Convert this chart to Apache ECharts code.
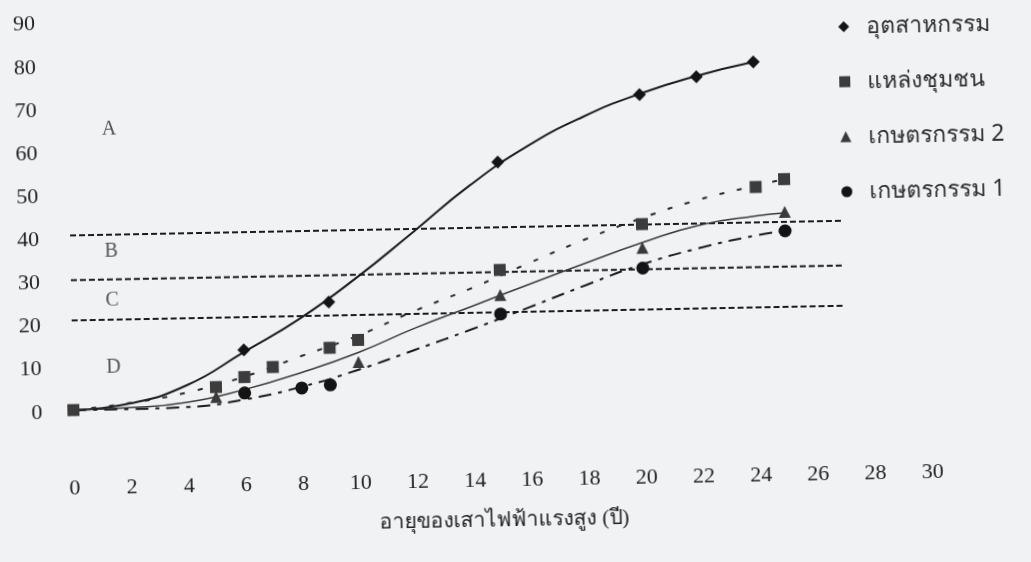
<!DOCTYPE html>
<html>
<head>
<meta charset="utf-8">
<script src="https://cdn.jsdelivr.net/npm/echarts@6/dist/echarts.min.js"></script>
<style>
  html, body { margin: 0; padding: 0; background: #f1f2f4; overflow: hidden; }
  #chart { width: 1031px; height: 562px; transform: rotate(-1.09deg); transform-origin: 50% 50%; }
</style>
</head>
<body>
<div id="chart"></div>
<script>
// ---- data ----
const seriesNames = ['อุตสาหกรรม', 'แหล่งชุมชน', 'เกษตรกรรม 2', 'เกษตรกรรม 1'];
const xAxisName = 'อายุของเสาไฟฟ้าแรงสูง (ปี)';

// observed points
const industrialX = [6, 9, 15, 20, 22, 24];
const industrialY = [13.7, 24.4, 56.1, 71.1, 75.0, 78.2];
const communityX = [0, 5, 6, 7, 9, 10, 15, 20, 24, 25];
const communityY = [0.5, 5.2, 7.4, 9.6, 13.8, 15.5, 31.1, 41.1, 49.2, 50.9];
const agri2X = [5, 10, 15, 20, 25];
const agri2Y = [2.9, 10.4, 25.3, 35.6, 43.3];
const agri1X = [6, 8, 9, 15, 20, 25];
const agri1Y = [3.7, 4.6, 5.2, 20.9, 30.9, 38.9];

// trend curves
const industrialFitX = [0, 2, 4, 6, 8, 10, 12, 14, 16, 18, 20, 22, 24];
const industrialFitY = [0.5, 1.8, 5.8, 13.2, 20.8, 30, 40.3, 50.8, 59.5, 66.2, 71.3, 75.2, 78.2];
const fitX = [0, 2, 4, 6, 8, 10, 12, 14, 16, 18, 20, 22, 24, 25];
const communityFitY = [0.5, 1.9, 4.1, 7.5, 12, 16.5, 22, 27, 32.5, 37.8, 42.5, 46.5, 49.5, 50.9];
const agri2FitY = [0.5, 0.8, 1.8, 4.5, 8.2, 12.6, 18, 22.8, 27.6, 32.3, 36.8, 40.6, 42.5, 43.1];
const agri1FitY = [0.5, 0.5, 0.7, 2.2, 4.9, 8.6, 13, 17.5, 22.3, 27.2, 31.8, 35.3, 38, 38.9];

// class thresholds and zone labels
const thresholdValues = [41, 30.6, 21.3];
const thresholdSpan = [0, 27];
const zoneNames = ['A', 'B', 'C', 'D'];
const zoneX = [1.43, 1.43, 1.43, 1.43];
const zoneY = [65.3, 37.0, 25.8, 10.1];

// axes
const xMin = 0, xMax = 30, xStep = 2;
const yMin = 0, yMax = 90, yStep = 10;

// ---- build ----
const zip = (xs, ys) => xs.map((x, i) => [x, ys[i]]);
const serif = '"Liberation Serif", "DejaVu Serif", serif';
const sans = '"Noto Sans", "DejaVu Sans", sans-serif';
const ink = '#1b1b1b';

const fitLine = (name, xs, ys, type, width, color) => ({
  name: name, type: 'line', data: zip(xs, ys), smooth: 0.5, showSymbol: false,
  lineStyle: { color: color, width: width, type: type }, z: 2, silent: true
});

const pointSeries = (name, xs, ys, symbol, size, color) => ({
  name: name, type: 'scatter', data: zip(xs, ys), symbol: symbol, symbolSize: size,
  itemStyle: { color: color, opacity: 1 }, z: 5
});

const series = [];
thresholdValues.forEach((v, i) => {
  series.push({
    name: 'th' + i, type: 'line', data: thresholdSpan.map(x => [x, v]), showSymbol: false,
    lineStyle: { color: ink, width: 2, type: [6, 3] }, z: 1, silent: true
  });
});
series.push(fitLine('fitIndustrial', industrialFitX, industrialFitY, 'solid', 2, ink));
series.push(fitLine('fitCommunity', fitX, communityFitY, [5, 13], 2, '#2a2a2a'));
series.push(fitLine('fitAgri2', fitX, agri2FitY, 'solid', 1.5, '#3a3a3a'));
series.push(fitLine('fitAgri1', fitX, agri1FitY, [13, 7, 4, 7], 2, ink));
series.push(pointSeries(seriesNames[0], industrialX, industrialY, 'diamond', 13, '#141414'));
series.push(pointSeries(seriesNames[1], communityX, communityY, 'rect', 12, '#3c3c3c'));
series.push(pointSeries(seriesNames[2], agri2X, agri2Y, 'triangle', 12, '#3a3a3a'));
series.push(pointSeries(seriesNames[3], agri1X, agri1Y, 'circle', 13, '#141414'));
series.push({
  name: 'zones', type: 'scatter', symbolSize: 1, silent: true,
  itemStyle: { color: 'rgba(0,0,0,0)' },
  data: zoneNames.map((n, i) => ({ value: [zoneX[i], zoneY[i]], name: n })),
  label: { show: true, position: 'inside', formatter: p => p.name,
           fontFamily: serif, fontSize: 20, color: '#2a2a2a' }, z: 3
});

const option = {
  backgroundColor: '#f1f2f4',
  animation: false,
  grid: { left: 71, right: 1031 - 71 - 858, top: 15.6, bottom: 562 - 403.8 },
  legend: {
    data: [
      { name: seriesNames[0], icon: 'diamond' },
      { name: seriesNames[1], icon: 'rect' },
      { name: seriesNames[2], icon: 'triangle' },
      { name: seriesNames[3], icon: 'circle' }
    ],
    orient: 'vertical', left: 838, top: 15,
    itemWidth: 11, itemHeight: 11, itemGap: 29,
    selectedMode: false,
    textStyle: { fontFamily: sans, fontSize: 23, lineHeight: 26, color: '#2e2e2e', padding: [0, 0, 0, 12] }
  },
  xAxis: {
    type: 'value', min: xMin, max: xMax, interval: xStep,
    name: xAxisName, nameLocation: 'middle', nameGap: 106,
    nameTextStyle: { fontFamily: serif, fontSize: 21, color: '#222' },
    axisLine: { show: false }, axisTick: { show: false }, splitLine: { show: false },
    axisLabel: { margin: 65, fontFamily: serif, fontSize: 22, color: '#222' }
  },
  yAxis: {
    type: 'value', min: yMin, max: yMax, interval: yStep,
    axisLine: { show: false }, axisTick: { show: false }, splitLine: { show: false },
    axisLabel: { margin: 31, fontFamily: serif, fontSize: 22, color: '#222' }
  },
  series: series
};

const chart = echarts.init(document.getElementById('chart'), null, { renderer: 'canvas' });
chart.setOption(option);
</script>
</body>
</html>
